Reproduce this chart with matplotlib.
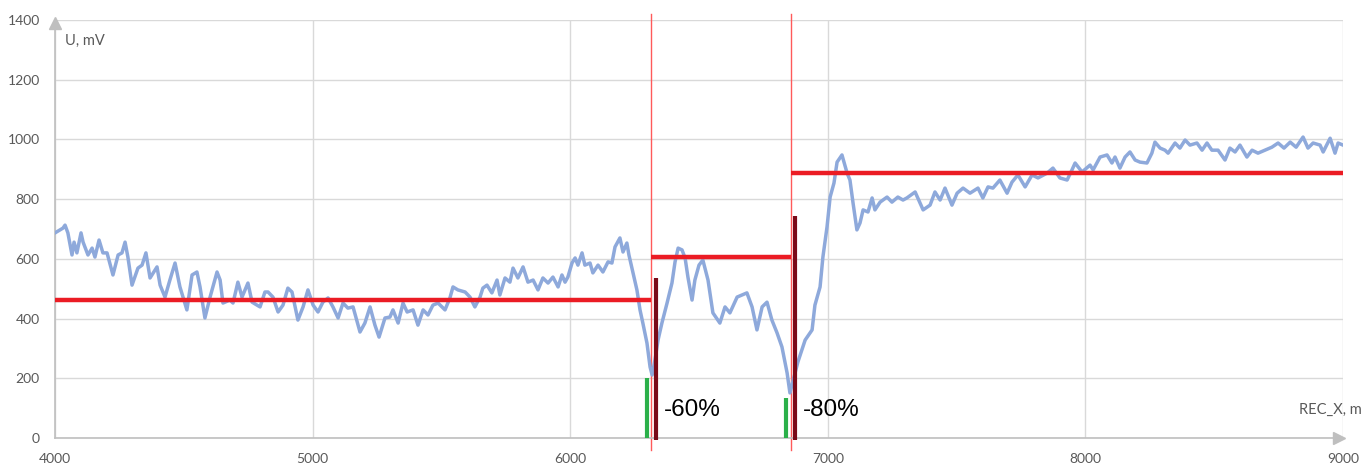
import matplotlib
matplotlib.use('Agg')
import matplotlib.pyplot as plt

# signal profile along the survey line
rec_x = [
    4000, 4031, 4039, 4050, 4066, 4074, 4085, 4101, 4109, 4128, 4144, 4155, 4171, 4186, 4202,
    4225, 4245, 4260, 4272, 4283, 4299, 4322, 4338, 4353, 4369, 4396, 4408, 4427, 4446, 4466,
    4485, 4497, 4512, 4532, 4551, 4563, 4582, 4602, 4629, 4641, 4652, 4679, 4691, 4710, 4726,
    4749, 4765, 4796, 4815, 4827, 4846, 4866, 4885, 4904, 4920, 4943, 4963, 4982, 5002, 5021,
    5040, 5060, 5079, 5099, 5118, 5137, 5157, 5184, 5203, 5223, 5242, 5258, 5281, 5300, 5312,
    5332, 5351, 5367, 5390, 5409, 5429, 5448, 5467, 5487, 5514, 5533, 5545, 5564, 5592, 5611,
    5630, 5650, 5661, 5677, 5696, 5716, 5727, 5747, 5766, 5778, 5797, 5817, 5836, 5856, 5875,
    5894, 5914, 5933, 5953, 5968, 5980, 5991, 6007, 6019, 6030, 6046, 6057, 6077, 6088, 6108,
    6127, 6147, 6162, 6174, 6193, 6205, 6220, 6228, 6244, 6259, 6271, 6282, 6298, 6310, 6318,
    6329, 6341, 6356, 6376, 6395, 6407, 6419, 6434, 6446, 6457, 6473, 6484, 6500, 6515, 6535,
    6554, 6581, 6601, 6620, 6648, 6686, 6706, 6725, 6745, 6764, 6783, 6803, 6822, 6842, 6853,
    6884, 6912, 6939, 6950, 6970, 6981, 6997, 7009, 7024, 7036, 7055, 7075, 7086, 7098, 7113,
    7125, 7137, 7156, 7172, 7183, 7203, 7230, 7249, 7272, 7292, 7307, 7339, 7370, 7397, 7416,
    7436, 7455, 7482, 7502, 7525, 7552, 7583, 7602, 7622, 7641, 7668, 7696, 7715, 7738, 7766,
    7793, 7816, 7851, 7874, 7901, 7929, 7948, 7960, 7987, 8018, 8030, 8057, 8084, 8103, 8115,
    8134, 8154, 8173, 8193, 8212, 8239, 8258, 8270, 8290, 8309, 8321, 8348, 8367, 8387, 8406,
    8433, 8453, 8472, 8491, 8515, 8542, 8561, 8581, 8600, 8627, 8647, 8670, 8697, 8724, 8748,
    8771, 8795, 8818, 8845, 8864, 8884, 8911, 8923, 8950, 8969, 8981, 9000,
]
u_mv = [
    687, 703, 713, 687, 613, 656, 620, 687, 656, 613, 636, 606, 663, 620, 620,
    546, 613, 620, 656, 606, 512, 569, 579, 620, 536, 573, 512, 472, 529, 586,
    506, 472, 429, 546, 556, 506, 402, 472, 556, 529, 452, 462, 452, 522, 472,
    519, 455, 439, 489, 489, 472, 422, 445, 502, 489, 395, 439, 496, 445, 422,
    455, 469, 439, 402, 452, 435, 439, 355, 385, 439, 378, 338, 402, 405, 429,
    385, 452, 422, 429, 378, 429, 412, 445, 452, 429, 469, 506, 496, 489, 472,
    439, 472, 502, 512, 486, 529, 479, 536, 522, 569, 536, 573, 522, 529, 496,
    536, 519, 539, 506, 546, 522, 539, 586, 603, 579, 620, 579, 586, 553, 579,
    556, 590, 586, 640, 670, 623, 653, 613, 553, 496, 429, 385, 318, 238, 211,
    261, 328, 385, 452, 519, 590, 636, 630, 603, 539, 462, 529, 579, 596, 529,
    419, 385, 439, 419, 472, 486, 439, 362, 439, 455, 395, 352, 305, 218, 151,
    255, 328, 362, 445, 506, 606, 707, 807, 854, 924, 948, 887, 864, 787, 697,
    720, 764, 757, 804, 764, 790, 807, 790, 807, 797, 804, 824, 764, 780, 824,
    797, 837, 780, 820, 837, 820, 837, 804, 841, 837, 864, 820, 857, 881, 841,
    881, 871, 887, 904, 871, 864, 898, 921, 891, 914, 898, 941, 948, 921, 941,
    904, 941, 958, 931, 924, 921, 954, 991, 971, 964, 954, 988, 971, 998, 981,
    988, 964, 988, 964, 964, 931, 971, 958, 981, 941, 964, 954, 964, 974, 988,
    971, 991, 974, 1008, 971, 988, 981, 958, 1004, 954, 988, 981,
]

# segment means between the cut positions
seg_bounds = [4000, 6312, 6856, 9000]
seg_levels = [462, 607, 886]

# cut positions and the drop bars next to them
cut_x = [6312, 6856]
drop_x = [6332, 6873]
drop_top = [536, 743]
min_x = [6297, 6837]
min_top = [201, 134]
drop_labels = ['-60%', '-80%']

grey_text = '#595959'
axis_grey = '#BFBFBF'

plt.rcParams['font.family'] = ['Lato', 'DejaVu Sans']

fig = plt.figure(figsize=(13.64, 4.66), dpi=100)
ax = fig.add_axes([55 / 1364, 1 - 438 / 466, 1288 / 1364, 418 / 466])

ax.plot(rec_x, u_mv, color='#8EA9DB', linewidth=2.5, zorder=3)

for i in range(len(seg_levels)):
    ax.plot([seg_bounds[i], seg_bounds[i + 1]], [seg_levels[i], seg_levels[i]],
            color='#EB1C24', linewidth=3.2, solid_capstyle='butt', zorder=4)

for x in cut_x:
    ax.plot([x, x], [-40, 1420], color='#FF5A5A', linewidth=1, clip_on=False, zorder=2)

for x, top in zip(drop_x, drop_top):
    ax.plot([x, x], [-7, top], color='#7A0A18', linewidth=3, solid_capstyle='butt',
            clip_on=False, zorder=5)

for x, top in zip(min_x, min_top):
    ax.plot([x, x], [0, top], color='#2BB04A', linewidth=3, solid_capstyle='butt', zorder=5)

for x, label in zip(drop_x, drop_labels):
    ax.text(x + 30, 95, label, fontsize=17.5, family=['Liberation Sans', 'DejaVu Sans'],
            color='black', ha='left', va='center', zorder=6)

ax.set_xlim(4000, 9000)
ax.set_ylim(0, 1400)
ax.set_xticks(range(4000, 9001, 1000))
ax.set_yticks(range(0, 1401, 200))
ax.tick_params(length=0, labelsize=10, labelcolor=grey_text)
ax.tick_params(axis='x', pad=11)
ax.tick_params(axis='y', pad=11)
ax.grid(color='#D9D9D9', linewidth=1)
ax.set_axisbelow(True)

for side in ['top', 'right']:
    ax.spines[side].set_visible(False)
for side in ['left', 'bottom']:
    ax.spines[side].set_color(axis_grey)
    ax.spines[side].set_linewidth(1.2)

# arrow heads on the axes
ax.plot([4000], [1390], marker='^', markersize=8, color=axis_grey, clip_on=False, zorder=6)
ax.plot([8985], [0], marker='>', markersize=8, color=axis_grey, clip_on=False, zorder=6)

ax.text(4040, 1330, 'U, mV', fontsize=10.5, color=grey_text, ha='left', va='center')
fig.text(1362 / 1364, 1 - 410 / 466, 'REC_X, m', fontsize=10.5, color=grey_text,
         ha='right', va='center')

fig.savefig('out.png', dpi=100)
